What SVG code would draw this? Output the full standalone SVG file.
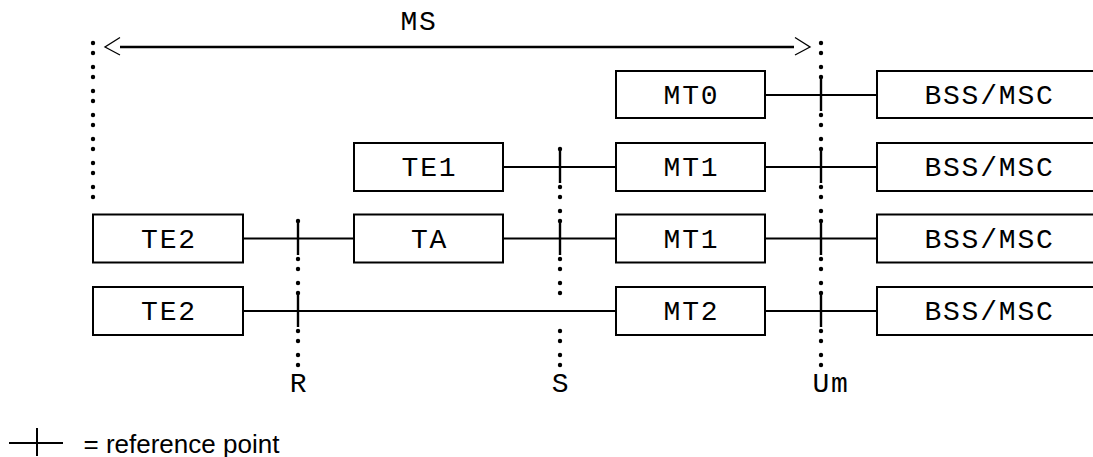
<svg xmlns="http://www.w3.org/2000/svg" width="1093" height="457" viewBox="0 0 1093 457">
<style>
.box{fill:#fff;stroke:#000;stroke-width:2}
.t{font-family:"Liberation Mono","DejaVu Sans Mono",monospace;font-size:28px;letter-spacing:1.8px;fill:#000;text-anchor:middle}
.ln{stroke:#000;stroke-width:2;fill:none}
.tk{stroke:#000;stroke-width:2.4;fill:none}
.d{fill:#000}
.head{stroke:#000;stroke-width:1.3;fill:none}
.leg{font-family:"Liberation Sans",Arial,sans-serif;font-size:26px;fill:#000}
</style>
<defs><circle id="dt" r="2.2" class="d"/></defs>
<rect width="1093" height="457" fill="#fff"/>
<g id="connectors">
  <!-- MS span arrow -->
  <line class="ln" x1="120" y1="47" x2="794" y2="47" style="stroke-width:2.5"/>
  <polyline class="head" points="120,37.5 105,47 120,55"/>
  <polyline class="head" points="795,37.5 810,47 795,55"/>
  <!-- reference point dotted lines -->
  <g id="dots-left">
    <use href="#dt" x="93" y="43"/><use href="#dt" x="93" y="53"/><use href="#dt" x="93" y="67"/><use href="#dt" x="93" y="77"/>
    <use href="#dt" x="93" y="91"/><use href="#dt" x="93" y="101"/><use href="#dt" x="93" y="115"/><use href="#dt" x="93" y="125"/>
    <use href="#dt" x="93" y="139"/><use href="#dt" x="93" y="149"/><use href="#dt" x="93" y="163"/><use href="#dt" x="93" y="173"/>
    <use href="#dt" x="93" y="187"/><use href="#dt" x="93" y="197"/>
  </g>
  <g id="dots-um">
    <use href="#dt" x="821" y="43"/><use href="#dt" x="821" y="53"/><use href="#dt" x="821" y="67"/><use href="#dt" x="821" y="77"/>
    <use href="#dt" x="821" y="115"/><use href="#dt" x="821" y="125"/><use href="#dt" x="821" y="139"/><use href="#dt" x="821" y="149"/>
    <use href="#dt" x="821" y="187"/><use href="#dt" x="821" y="197"/><use href="#dt" x="821" y="211"/><use href="#dt" x="821" y="221"/>
    <use href="#dt" x="821" y="259"/><use href="#dt" x="821" y="269"/><use href="#dt" x="821" y="283"/><use href="#dt" x="821" y="293"/>
    <use href="#dt" x="821" y="331"/><use href="#dt" x="821" y="341"/><use href="#dt" x="821" y="355"/><use href="#dt" x="821" y="365"/>
  </g>
  <g id="dots-s">
    <use href="#dt" x="560" y="149"/>
    <use href="#dt" x="560" y="187"/><use href="#dt" x="560" y="197"/><use href="#dt" x="560" y="211"/><use href="#dt" x="560" y="221"/>
    <use href="#dt" x="560" y="259"/><use href="#dt" x="560" y="269"/><use href="#dt" x="560" y="283"/><use href="#dt" x="560" y="293"/>
    <use href="#dt" x="560" y="331"/><use href="#dt" x="560" y="341"/><use href="#dt" x="560" y="355"/><use href="#dt" x="560" y="365"/>
  </g>
  <g id="dots-r">
    <use href="#dt" x="298" y="221"/>
    <use href="#dt" x="298" y="259"/><use href="#dt" x="298" y="269"/><use href="#dt" x="298" y="283"/><use href="#dt" x="298" y="293"/>
    <use href="#dt" x="298" y="331"/><use href="#dt" x="298" y="341"/><use href="#dt" x="298" y="355"/><use href="#dt" x="298" y="365"/>
  </g>
  <!-- row 1 -->
  <line class="ln" x1="765" y1="95" x2="877" y2="95"/>
  <line class="tk" x1="821" y1="77" x2="821" y2="111"/>
  <!-- row 2 -->
  <line class="ln" x1="503" y1="167" x2="616" y2="167"/>
  <line class="tk" x1="560" y1="149" x2="560" y2="183"/>
  <line class="ln" x1="765" y1="167" x2="877" y2="167"/>
  <line class="tk" x1="821" y1="149" x2="821" y2="183"/>
  <!-- row 3 -->
  <line class="ln" x1="243" y1="238.5" x2="354" y2="238.5"/>
  <line class="tk" x1="298" y1="221" x2="298" y2="255"/>
  <line class="ln" x1="503" y1="238.5" x2="616" y2="238.5"/>
  <line class="tk" x1="560" y1="221" x2="560" y2="255"/>
  <line class="ln" x1="765" y1="238.5" x2="877" y2="238.5"/>
  <line class="tk" x1="821" y1="221" x2="821" y2="255"/>
  <!-- row 4 -->
  <line class="ln" x1="243" y1="311" x2="616" y2="311"/>
  <line class="tk" x1="298" y1="293" x2="298" y2="327"/>
  <line class="ln" x1="765" y1="311" x2="877" y2="311"/>
  <line class="tk" x1="821" y1="293" x2="821" y2="327"/>
</g>
<text class="t" x="419" y="30">MS</text>
<text class="t" x="299" y="392">R</text>
<text class="t" x="561" y="392">S</text>
<text class="t" x="831" y="392">Um</text>
<g id="MT0"><rect class="box" x="616" y="71" width="149" height="47"/><text class="t" x="691.5" y="104">MT0</text></g>
<g id="BSS1"><rect class="box" x="877" y="71" width="240" height="47"/><text class="t" x="989.5" y="104">BSS/MSC</text></g>
<g id="TE1"><rect class="box" x="354" y="143" width="149" height="48"/><text class="t" x="429.5" y="176">TE1</text></g>
<g id="MT1a"><rect class="box" x="616" y="143" width="149" height="48"/><text class="t" x="691.5" y="176">MT1</text></g>
<g id="BSS2"><rect class="box" x="877" y="143" width="240" height="48"/><text class="t" x="989.5" y="176">BSS/MSC</text></g>
<g id="TE2a"><rect class="box" x="93" y="214.5" width="150" height="48"/><text class="t" x="169" y="247.5">TE2</text></g>
<g id="TA"><rect class="box" x="354" y="214.5" width="149" height="48"/><text class="t" x="429.5" y="247.5">TA</text></g>
<g id="MT1b"><rect class="box" x="616" y="214.5" width="149" height="48"/><text class="t" x="691.5" y="247.5">MT1</text></g>
<g id="BSS3"><rect class="box" x="877" y="214.5" width="240" height="48"/><text class="t" x="989.5" y="247.5">BSS/MSC</text></g>
<g id="TE2b"><rect class="box" x="93" y="287" width="150" height="48"/><text class="t" x="169" y="320">TE2</text></g>
<g id="MT2"><rect class="box" x="616" y="287" width="149" height="48"/><text class="t" x="691.5" y="320">MT2</text></g>
<g id="BSS4"><rect class="box" x="877" y="287" width="240" height="48"/><text class="t" x="989.5" y="320">BSS/MSC</text></g>
<g id="legend">
  <line class="ln" x1="9" y1="443" x2="63" y2="443"/>
  <line class="ln" x1="37" y1="428" x2="37" y2="456"/>
  <text class="leg" x="83.5" y="453">= reference point</text>
</g>
</svg>
